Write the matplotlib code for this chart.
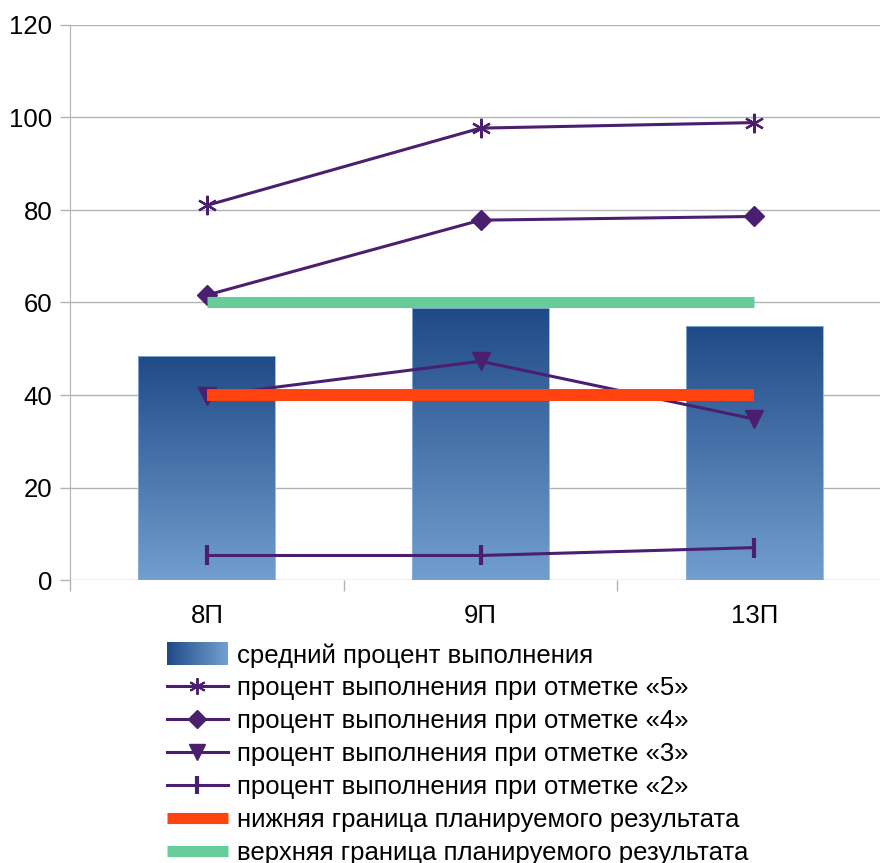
import numpy as np
import matplotlib.pyplot as plt
from matplotlib.colors import LinearSegmentedColormap
from matplotlib.patches import Rectangle
from matplotlib.lines import Line2D
from matplotlib.legend_handler import HandlerBase

plt.rcParams['font.family'] = ['Liberation Sans', 'DejaVu Sans']

# Данные
groups = ['8П', '9П', '13П']
avg_pct = [48.5, 58.8, 55.0]
pct_5 = [81, 97.7, 98.9]
pct_4 = [61.6, 77.8, 78.6]
pct_3 = [39.8, 47.3, 34.8]
pct_2 = [5.3, 5.3, 7.0]
lower_bound = [40, 40, 40]
upper_bound = [60, 60, 60]

labels = ['средний процент выполнения',
          'процент выполнения при отметке «5»',
          'процент выполнения при отметке «4»',
          'процент выполнения при отметке «3»',
          'процент выполнения при отметке «2»',
          'нижняя граница планируемого результата',
          'верхняя граница планируемого результата']

purple = '#4b1f6f'
red = '#ff420e'
green = '#66cc99'
grad = LinearSegmentedColormap.from_list('bar', ['#729fcf', '#204a87'])
fs = 18.5

fig = plt.figure(figsize=(8.8, 8.63), dpi=100)
ax = fig.add_axes([70 / 880, 283 / 863, 821 / 880, 555 / 863])

x = np.arange(len(groups))
bars = ax.bar(x, avg_pct, width=0.5, color='none', edgecolor='#8fb0d8',
              linewidth=0.6, zorder=2)
g = np.linspace(0, 1, 256).reshape(-1, 1)
for b in bars:
    x0, y0 = b.get_x(), b.get_y()
    im = ax.imshow(g, cmap=grad, origin='lower', aspect='auto',
                   extent=(x0, x0 + b.get_width(), y0, y0 + b.get_height()),
                   zorder=1.5)
    im.set_clip_path(b)

mk = dict(color=purple, lw=2.2, zorder=3)
ax.plot(x, pct_5, marker=(6, 2, 0), ms=14, mew=1.6, **mk)
ax.plot(x, pct_4, marker='D', ms=10, **mk)
ax.plot(x, pct_3, marker='v', ms=13, **mk)
ax.plot(x, pct_2, marker='|', ms=15, mew=3, **mk)
ax.plot(x, lower_bound, color=red, lw=8.6, solid_capstyle='butt', zorder=4)
ax.plot(x, upper_bound, color=green, lw=8, solid_capstyle='butt', zorder=4)

ax.set_xlim(-0.5, 2.5)
ax.set_ylim(0, 120)
ax.set_yticks(range(0, 121, 20))
ax.set_xticks(x, groups)
ax.set_xticks([-0.5, 0.5, 1.5, 2.5], minor=True)
ax.tick_params(axis='x', which='major', length=0, pad=17, labelsize=fs)
ax.tick_params(axis='x', which='minor', length=8, color='#b3b3b3', width=1)
ax.tick_params(axis='y', length=7.2, color='#b3b3b3', width=1, pad=5.5,
               labelsize=fs)
ax.grid(axis='y', color='#b3b3b3', lw=1, zorder=0)
for s in ['top', 'right', 'bottom']:
    ax.spines[s].set_visible(False)
ax.spines['left'].set_color('#b3b3b3')
ax.set_axisbelow(True)


class GradientHandler(HandlerBase):
    def create_artists(self, legend, orig_handle, xdescent, ydescent,
                       width, height, fontsize, trans):
        n = 40
        cols = grad(np.linspace(1, 0, n))
        arts = []
        for i in range(n):
            r = Rectangle((-xdescent + width * i / n, -ydescent - 2),
                          width / n + 0.3, height + 4, facecolor=cols[i],
                          edgecolor='none', transform=trans)
            arts.append(r)
        return arts


bar_h = Rectangle((0, 0), 1, 1)
handles = [bar_h,
           Line2D([], [], color=purple, lw=2.2, marker=(6, 2, 0), ms=12, mew=1.4),
           Line2D([], [], color=purple, lw=2.2, marker='D', ms=9),
           Line2D([], [], color=purple, lw=2.2, marker='v', ms=11),
           Line2D([], [], color=purple, lw=2.2, marker='|', ms=13, mew=3),
           Line2D([], [], color=red, lw=8, solid_capstyle='butt'),
           Line2D([], [], color=green, lw=8, solid_capstyle='butt')]
fig.legend(handles, labels, loc='upper left',
           bbox_to_anchor=(167 / 880, 1 - 643 / 863), frameon=False,
           fontsize=fs, handlelength=2.37, handletextpad=0.35,
           labelspacing=0.35, borderpad=0, borderaxespad=0,
           handler_map={Rectangle: GradientHandler()})

fig.savefig('out.png', dpi=100)
